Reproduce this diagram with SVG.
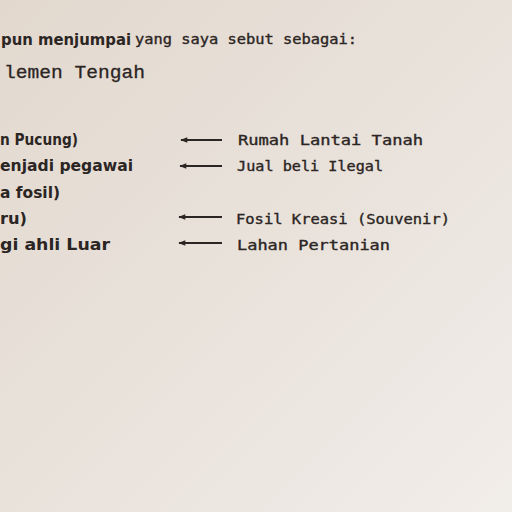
<svg xmlns="http://www.w3.org/2000/svg" width="512" height="512" viewBox="0 0 512 512">
<defs>
<linearGradient id="bg" x1="0" y1="0" x2="1" y2="1">
<stop offset="0" stop-color="#e2d8ce"/>
<stop offset="0.5" stop-color="#e9e2db"/>
<stop offset="1" stop-color="#f1ede9"/>
</linearGradient>
<marker id="ah" viewBox="0 0 10 10" refX="9" refY="5" markerWidth="10" markerHeight="7" markerUnits="userSpaceOnUse" orient="auto">
<path d="M0,1 L10,5 L0,9 Z" fill="#2b2523"/>
</marker>
<style>
.t{font-family:"DejaVu Sans Mono","Liberation Mono",monospace;fill:#2b2523;font-size:14px;stroke:#2b2523;stroke-width:0.35}
.s{font-family:"DejaVu Sans","Liberation Sans",sans-serif;fill:#2b2523;font-size:15px;font-weight:bold}
.h{font-family:"Liberation Mono","DejaVu Sans Mono",monospace;fill:#2b2523;font-size:19px;stroke:#2b2523;stroke-width:0.3}
.a{stroke:#2b2523;stroke-width:1.8;fill:none}
</style>
</defs>
<rect width="512" height="512" fill="url(#bg)"/>
<g id="header">
<text class="s" x="1" y="45" textLength="130" lengthAdjust="spacingAndGlyphs">pun menjumpai</text>
<text class="t" x="135" y="44" textLength="222" lengthAdjust="spacingAndGlyphs">yang saya sebut sebagai:</text>
<text class="h" x="4" y="78" textLength="141" lengthAdjust="spacingAndGlyphs">lemen Tengah</text>
</g>
<g id="left">
<text class="s" x="0" y="145" textLength="78" lengthAdjust="spacingAndGlyphs">n Pucung)</text>
<text class="s" x="0" y="171" textLength="133" lengthAdjust="spacingAndGlyphs">enjadi pegawai</text>
<text class="s" x="0" y="198" textLength="60" lengthAdjust="spacingAndGlyphs">a fosil)</text>
<text class="s" x="0" y="224" textLength="27" lengthAdjust="spacingAndGlyphs">ru)</text>
<text class="s" x="0" y="250" textLength="110" lengthAdjust="spacingAndGlyphs">gi ahli Luar</text>
</g>
<g id="connectors">
<line class="a" x1="222" y1="140" x2="181" y2="140" marker-end="url(#ah)"/>
<line class="a" x1="222" y1="166" x2="180" y2="166" marker-end="url(#ah)"/>
<line class="a" x1="222" y1="217" x2="179" y2="217" marker-end="url(#ah)"/>
<line class="a" x1="222" y1="243" x2="179" y2="243" marker-end="url(#ah)"/>
</g>
<g id="right">
<text class="t" x="238" y="145" textLength="185" lengthAdjust="spacingAndGlyphs">Rumah Lantai Tanah</text>
<text class="t" x="237" y="171" textLength="146" lengthAdjust="spacingAndGlyphs">Jual beli Ilegal</text>
<text class="t" x="236" y="224" textLength="214" lengthAdjust="spacingAndGlyphs">Fosil Kreasi (Souvenir)</text>
<text class="t" x="237" y="250" textLength="153" lengthAdjust="spacingAndGlyphs">Lahan Pertanian</text>
</g>
</svg>
